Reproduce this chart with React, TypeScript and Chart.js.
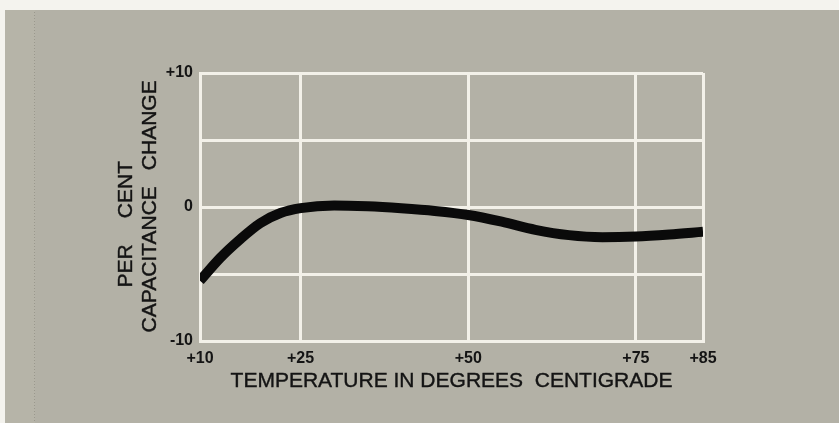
import React, { useEffect, useRef } from "react";
import { Chart, registerables } from "chart.js";

Chart.register(...registerables);

// Data
const temperatures = [10, 13, 16, 19, 22, 25, 30, 35, 40, 45, 50, 55, 60, 65, 70, 75, 80, 85];
const capacitanceChange = [-5.5, -3.8, -2.4, -1.2, -0.45, -0.08, 0.12, 0.05, -0.1, -0.3, -0.6, -1.1, -1.7, -2.1, -2.25, -2.2, -2.05, -1.85];

const xTickValues = [10, 25, 50, 75, 85];
const yTickValues = [-10, -5, 0, 5, 10];
const yLabelledTicks = [-10, 0, 10];

const xTitle = "TEMPERATURE IN DEGREES  CENTIGRADE";
const yTitleLine1 = ["PER", "CENT"];
const yTitleLine2 = ["CAPACITANCE", "CHANGE"];

const BG = "rgb(179,177,166)";
const GRID = "#f3f1e9";
const INK = "#141414";

const backgroundPlugin = {
  id: "paperBackground",
  beforeDraw(chart: any) {
    const { ctx, width, height } = chart;
    ctx.save();
    ctx.fillStyle = "#f4f3ee";
    ctx.fillRect(0, 0, width, height);
    ctx.fillStyle = BG;
    ctx.fillRect(5, 10, width - 5, height - 10);
    ctx.fillStyle = "rgb(182,180,168)";
    ctx.fillRect(5, 10, 30, height - 10);
    ctx.strokeStyle = "rgba(120,118,108,0.45)";
    ctx.lineWidth = 1;
    ctx.setLineDash([1, 2]);
    ctx.beginPath();
    ctx.moveTo(34.5, 12);
    ctx.lineTo(34.5, height);
    ctx.stroke();
    ctx.restore();
  },
};

const titlesPlugin = {
  id: "axisTitles",
  afterDraw(chart: any) {
    const { ctx, chartArea } = chart;
    const yScale = chart.scales.y;
    ctx.save();
    ctx.fillStyle = INK;
    ctx.strokeStyle = INK;
    ctx.lineWidth = 0.4;
    ctx.font = "21px 'Liberation Sans', Arial, sans-serif";
    ctx.textAlign = "center";
    ctx.textBaseline = "middle";
    const cx = (chartArea.left + chartArea.right) / 2;
    ctx.fillText(xTitle, cx, 381);
    ctx.strokeText(xTitle, cx, 381);
    const drawRot = (text: string, x: number, y: number) => {
      ctx.save();
      ctx.translate(x, y);
      ctx.rotate(-Math.PI / 2);
      ctx.fillText(text, 0, 0);
      ctx.strokeText(text, 0, 0);
      ctx.restore();
    };
    drawRot(yTitleLine1[0], 126, yScale.getPixelForValue(-4.4));
    drawRot(yTitleLine1[1], 126, yScale.getPixelForValue(1.3));
    drawRot(yTitleLine2[0], 150, yScale.getPixelForValue(-3.9));
    drawRot(yTitleLine2[1], 150, yScale.getPixelForValue(6.1));
    ctx.restore();
  },
};

export default function App() {
  const ref = useRef<HTMLCanvasElement | null>(null);

  useEffect(() => {
    if (!ref.current) return;
    const chart = new Chart(ref.current, {
      type: "line",
      data: {
        datasets: [
          {
            data: temperatures.map((t, i) => ({ x: t, y: capacitanceChange[i] })),
            borderColor: "#0a0a0a",
            borderWidth: 10,
            pointRadius: 0,
            tension: 0.4,
            cubicInterpolationMode: "monotone",
            fill: false,
          },
        ],
      },
      options: {
        animation: false,
        responsive: false,
        layout: { padding: { left: 0, right: 136, top: 73, bottom: 0 } },
        plugins: {
          legend: { display: false },
          tooltip: { enabled: false },
          title: { display: false },
        },
        scales: {
          x: {
            type: "linear",
            min: 10,
            max: 85,
            afterBuildTicks: (scale: any) => {
              scale.ticks = xTickValues.map((v) => ({ value: v }));
            },
            afterFit: (scale: any) => {
              scale.height = 82;
            },
            grid: { color: GRID, lineWidth: 3, drawTicks: false },
            border: { display: true, color: GRID, width: 3 },
            ticks: {
              padding: 8,
              color: INK,
              maxRotation: 0,
              autoSkip: false,
              font: { family: "'Liberation Sans', Arial, sans-serif", size: 16, weight: "bold" },
              callback: (v: any) => "+" + v,
            },
          },
          y: {
            type: "linear",
            min: -10,
            max: 10,
            afterBuildTicks: (scale: any) => {
              scale.ticks = yTickValues.map((v) => ({ value: v }));
            },
            afterFit: (scale: any) => {
              scale.width = 200;
            },
            grid: { color: GRID, lineWidth: 3, drawTicks: false },
            border: { display: true, color: GRID, width: 3 },
            ticks: {
              padding: 7,
              color: INK,
              autoSkip: false,
              font: { family: "'Liberation Sans', Arial, sans-serif", size: 16, weight: "bold" },
              callback: (v: any) => {
                if (!yLabelledTicks.includes(v)) return "";
                if (v > 0) return "+" + v;
                return String(v);
              },
            },
          },
        },
      },
      plugins: [backgroundPlugin, titlesPlugin],
    } as any);
    return () => chart.destroy();
  }, []);

  return (
    <div style={{ position: "fixed", left: 0, top: 0, width: 839, height: 423 }}>
      <canvas ref={ref} width={839} height={423} style={{ display: "block", width: 839, height: 423 }} />
    </div>
  );
}
